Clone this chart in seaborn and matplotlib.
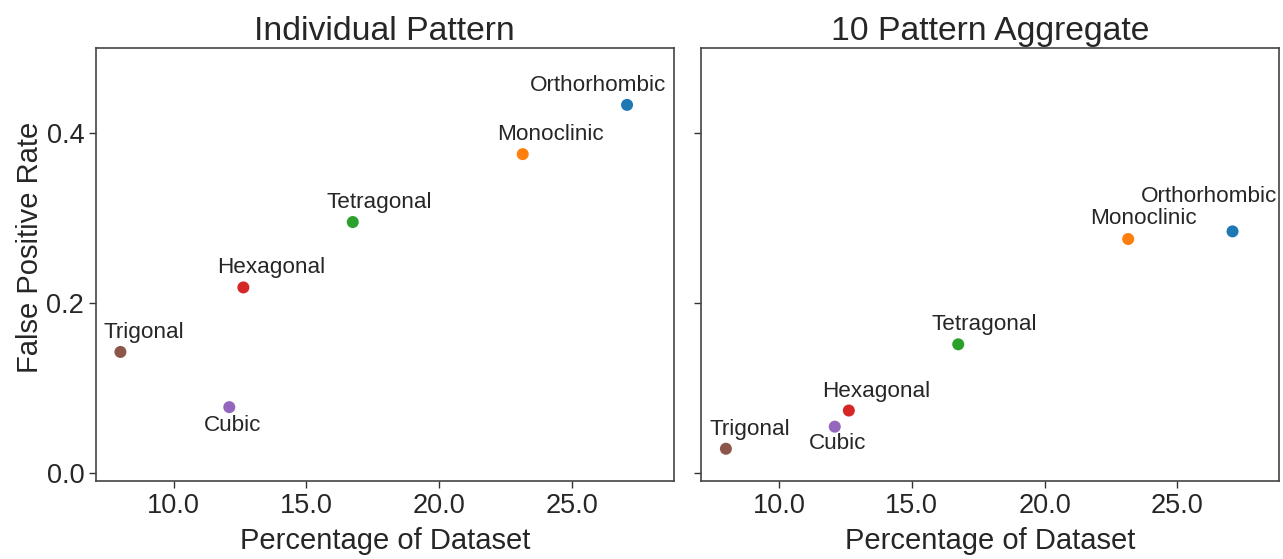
import matplotlib
matplotlib.use("Agg")
import matplotlib.pyplot as plt
import seaborn as sns
import pandas as pd
from matplotlib.ticker import FormatStrFormatter

systems = ["Orthorhombic", "Monoclinic", "Tetragonal", "Hexagonal", "Cubic", "Trigonal"]
pct_dataset = [27.08, 23.15, 16.75, 12.63, 12.10, 8.00]
fpr_individual = [0.433, 0.375, 0.295, 0.218, 0.077, 0.142]
fpr_aggregate = [0.284, 0.275, 0.151, 0.073, 0.054, 0.028]
titles = ["Individual Pattern", "10 Pattern Aggregate"]
xticks = [10, 15, 20, 25]
yticks = [0.0, 0.2, 0.4]

# label offsets in points (dx, dy) per panel
offsets_left = {"Orthorhombic": (-21, 14), "Monoclinic": (20, 14), "Tetragonal": (19, 14),
                "Hexagonal": (20, 14), "Cubic": (2, -13), "Trigonal": (17, 14)}
offsets_right = {"Orthorhombic": (-17, 25), "Monoclinic": (11, 15), "Tetragonal": (19, 14),
                 "Hexagonal": (20, 14), "Cubic": (2, -12), "Trigonal": (17, 14)}

sns.set_style("ticks")
plt.rcParams["font.family"] = ["Liberation Sans", "DejaVu Sans"]
text_color = "#262626"

palette = dict(zip(systems, sns.color_palette("tab10", 6)))

df_left = pd.DataFrame({"system": systems, "pct": pct_dataset, "fpr": fpr_individual})
df_right = pd.DataFrame({"system": systems, "pct": pct_dataset, "fpr": fpr_aggregate})

fig, axes = plt.subplots(1, 2, figsize=(12.83, 5.59), dpi=100, sharey=True)
fig.subplots_adjust(left=96 / 1283, right=1279 / 1283, bottom=1 - 481 / 559, top=1 - 48 / 559,
                    wspace=0.0484)

for ax, df, title, offs in zip(axes, [df_left, df_right], titles, [offsets_left, offsets_right]):
    sns.scatterplot(data=df, x="pct", y="fpr", hue="system", palette=palette, s=75,
                    linewidth=0, legend=False, ax=ax, zorder=3)
    for _, row in df.iterrows():
        dx, dy = offs[row["system"]]
        ax.annotate(row["system"], (row["pct"], row["fpr"]), xytext=(dx, dy),
                    textcoords="offset points", ha="center", va="center",
                    fontsize=16.2, color=text_color)
    ax.set_title(title, fontsize=24.3, color=text_color, pad=6)
    ax.set_xlabel("Percentage of Dataset", fontsize=21, color=text_color, labelpad=6)
    ax.set_xlim(7.08, 28.83)
    ax.set_ylim(-0.01, 0.5)
    ax.set_xticks(xticks)
    ax.set_yticks(yticks)
    ax.xaxis.set_major_formatter(FormatStrFormatter("%.1f"))
    ax.yaxis.set_major_formatter(FormatStrFormatter("%.1f"))
    ax.tick_params(labelsize=19.5, colors="#333333", labelcolor=text_color, length=5, width=1)
    for sp in ax.spines.values():
        sp.set_visible(True)
        sp.set_color("#444444")
        sp.set_linewidth(1.2)

axes[0].set_ylabel("False Positive Rate", fontsize=21, color=text_color)
axes[0].yaxis.set_label_coords(-0.09, 0.54)
axes[1].set_ylabel("")
axes[1].tick_params(labelleft=False)

fig.savefig("out.png", dpi=100)
